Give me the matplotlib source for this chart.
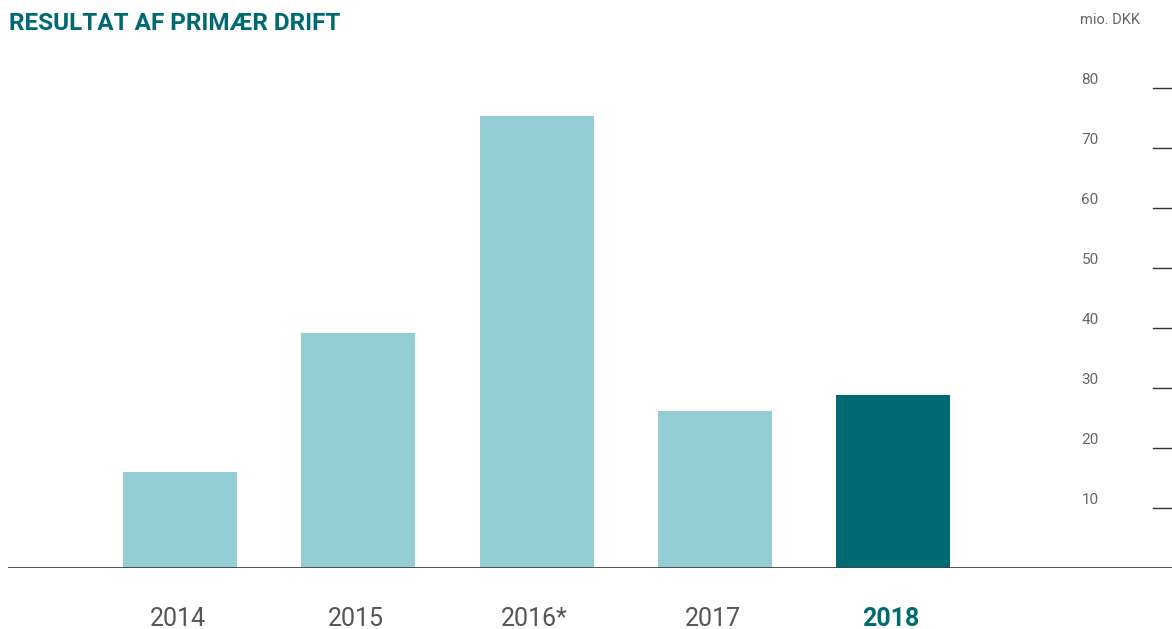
import numpy as np
import matplotlib.pyplot as plt

years = ['2014', '2015', '2016*', '2017', '2018']
values = [16.0, 39.2, 75.3, 26.2, 28.8]
colors = ['#95cdd5', '#95cdd5', '#95cdd5', '#95cdd5', '#006a73']
yticks = [10, 20, 30, 40, 50, 60, 70, 80]

W, H = 1172, 629
fig = plt.figure(figsize=(W / 100, H / 100), dpi=100)
plt.rcParams['font.family'] = ['Roboto', 'DejaVu Sans']

# y=0 at pixel 568, y=80 at pixel 88
ax = fig.add_axes([0, (H - 568) / H, 1, 480 / H])
step = 178.25
ax.set_xlim(-180 / step, (W - 180) / step)
ax.set_ylim(0, 80)
x = np.arange(len(years))
ax.bar(x, values, width=114 / step, color=colors, zorder=2)

for s in ax.spines.values():
    s.set_visible(False)
ax.set_xticks([])
ax.set_yticks([])

# baseline
ax.axhline(0, xmin=9 / W, xmax=1, color='#444444', lw=1.3, zorder=3)

# right-side ticks and labels
for t in yticks:
    ax.plot([1153 / W, 1], [t, t], transform=ax.get_yaxis_transform(),
            color='#333333', lw=1, clip_on=False)
    ax.text(1090 / W, t + 8 / 6, str(t), transform=ax.get_yaxis_transform(),
            ha='center', va='center', fontsize=11, color='#666666')

# year labels
for i, yr in enumerate(years):
    bold = i == len(years) - 1
    fig.text((178 + step * i) / W, 1 - 619 / H, yr, ha='center', va='center',
             fontsize=18, color='#006a73' if bold else '#555555',
             fontweight='bold' if bold else 'normal')

fig.text(9 / W, 1 - 24 / H, 'RESULTAT AF PRIMÆR DRIFT', ha='left', va='center',
         fontsize=17.5, fontweight='bold', color='#006a73')
fig.text(1110 / W, 1 - 20 / H, 'mio. DKK', ha='center', va='center',
         fontsize=10.5, color='#666666')

fig.savefig('out.png', dpi=100)
